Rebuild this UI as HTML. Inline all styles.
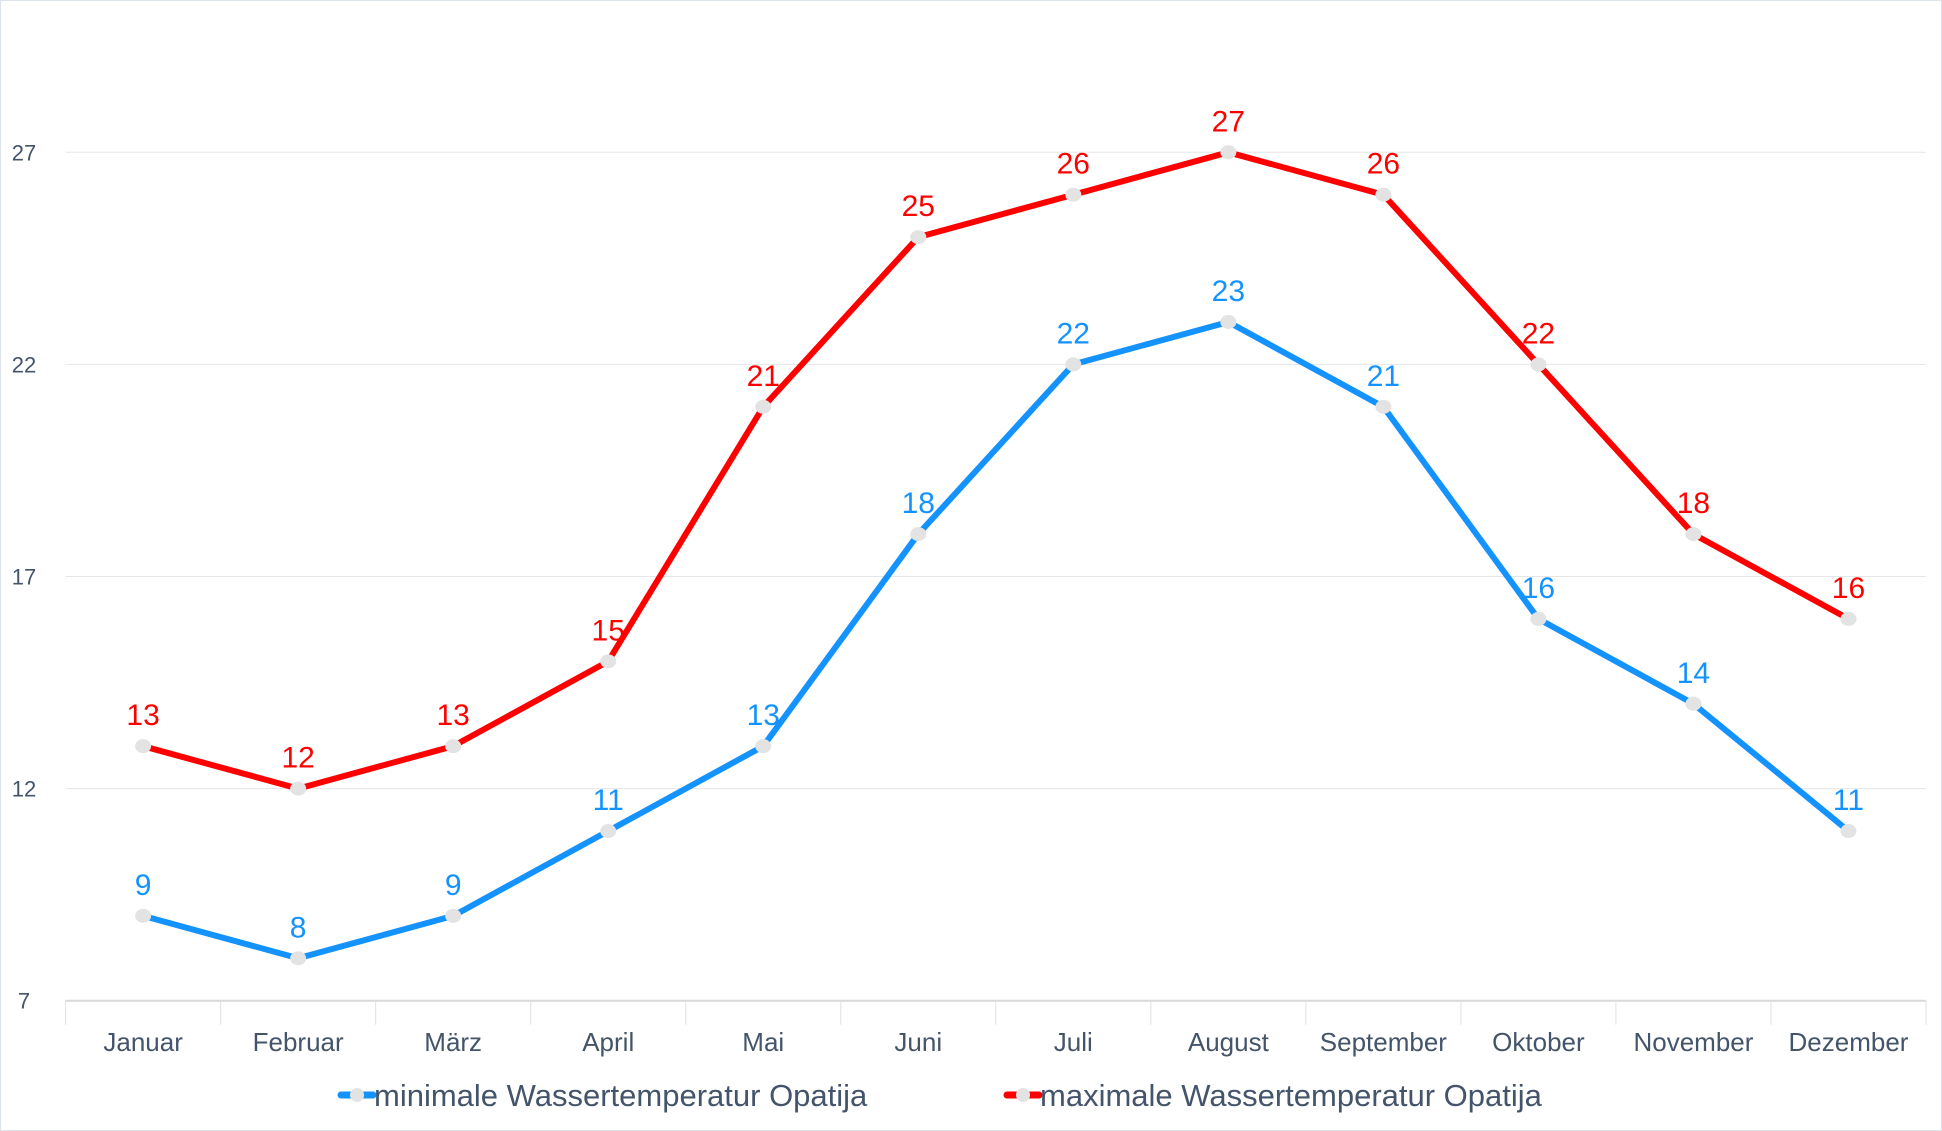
<!DOCTYPE html>
<html><head><meta charset="utf-8"><style>
html,body{margin:0;padding:0;background:#fff}
svg{display:block;font-family:"Liberation Sans","DejaVu Sans",sans-serif}
</style></head><body>
<svg id="chart" width="1942" height="1131" viewBox="0 0 1942 1131" xmlns="http://www.w3.org/2000/svg">
<rect x="0.5" y="0.5" width="1941" height="1130" fill="#fff" stroke="#dde3ea"/>
<g id="grid"></g><g id="axes"></g><g id="series"></g><g id="legend"></g>
</svg>
<script>
const categories=["Januar","Februar","März","April","Mai","Juni","Juli","August","September","Oktober","November","Dezember"];
const minValues=[9,8,9,11,13,18,22,23,21,16,14,11];
const maxValues=[13,12,13,15,21,25,26,27,26,22,18,16];
const yTicks=[7,12,17,22,27];
const NS="http://www.w3.org/2000/svg";
const L=65.6,R=1926,Y0=1000.7,PX5=212.1;
const band=(R-L)/categories.length;
const xS=i=>L+band*(i+0.5);
const yS=v=>Y0-(v-7)*PX5/5;
function mk(tag,attrs,parent,text){const e=document.createElementNS(NS,tag);for(const k in attrs)e.setAttribute(k,attrs[k]);if(text!==undefined)e.textContent=text;parent.appendChild(e);return e;}
const grid=document.getElementById('grid'),axes=document.getElementById('axes'),series=document.getElementById('series'),legend=document.getElementById('legend');
yTicks.forEach(t=>{
  const y=yS(t);
  const ln=mk('line',{x1:L,x2:R,y1:y,y2:y,stroke:t===7?'#d9d9d9':'#e6e6e6','stroke-width':t===7?2:1},grid);
  
  
  const tx=mk('text',{x:24,y:y+8,'text-anchor':'middle','font-size':22,fill:'#44546a'},axes,String(t));
  
  
});
for(let i=0;i<=categories.length;i++){
  const x=L+band*i;
  const tk=mk('line',{x1:x,x2:x,y1:Y0,y2:Y0+24,stroke:'#e0e0e0','stroke-width':1},axes);
  
  
}
categories.forEach((c,i)=>{
  const t=mk('text',{x:xS(i),y:1051,'text-anchor':'middle','font-size':26,fill:'#44546a'},axes,c);
  
  
});
function drawSeries(vals,color,name){
  const g=mk('g',{},series);
  
  
  const pl=mk('polyline',{points:vals.map((v,i)=>xS(i)+','+yS(v)).join(' '),fill:'none',stroke:color,'stroke-width':6,'stroke-linejoin':'round'},g);
  
  
  vals.forEach((v,i)=>{
    const p=mk('ellipse',{cx:xS(i),cy:yS(v),rx:8,ry:7,fill:'#e3e3e3'},g);
    
    
    const t=mk('text',{x:xS(i),y:yS(v)-21,'text-anchor':'middle','font-size':30,fill:color},g,String(v));
    
    
  });
}
drawSeries(minValues,'#1493ff','min');
drawSeries(maxValues,'#ff0000','max');
function legendEntry(x,color,label,name){
  const g=mk('g',{},legend);
  
  
  mk('line',{x1:x-16,x2:x+16,y1:1095,y2:1095,stroke:color,'stroke-width':7,'stroke-linecap':'round'},g);
  mk('ellipse',{cx:x,cy:1095,rx:7,ry:7,fill:'#e3e3e3'},g);
  mk('text',{x:x+17,y:1106,'font-size':31,fill:'#44546a'},g,label);
}
legendEntry(357,'#1493ff','minimale Wassertemperatur Opatija','legend-entry-min');
legendEntry(1023,'#ff0000','maximale Wassertemperatur Opatija','legend-entry-max');
</script>
</body></html>
